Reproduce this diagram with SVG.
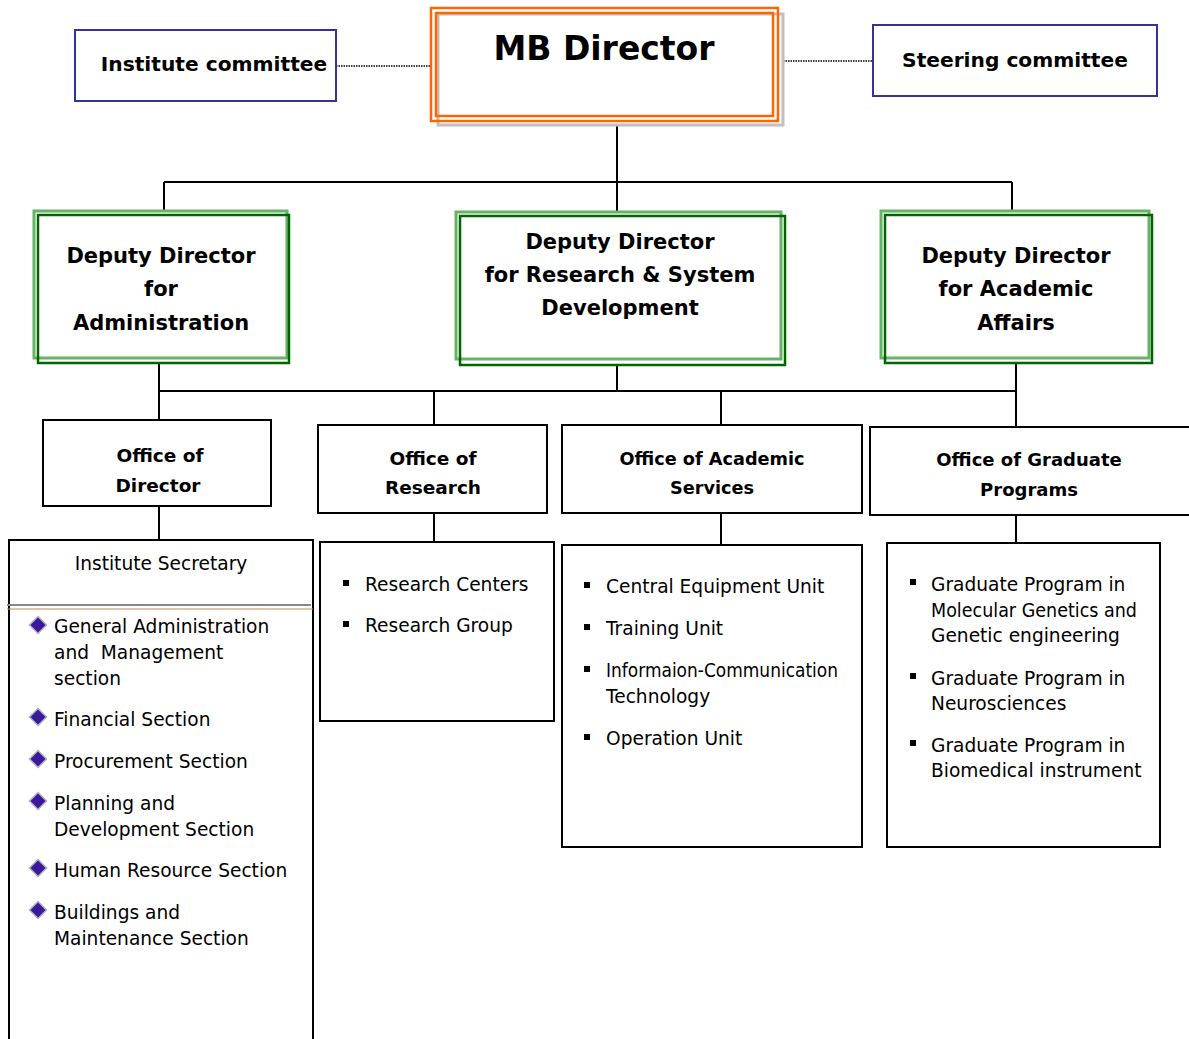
<svg xmlns="http://www.w3.org/2000/svg" width="1189" height="1039" viewBox="0 0 1189 1039">
<style>
.t{font-family:"DejaVu Sans",Verdana,sans-serif;fill:#000}
.b{font-weight:bold}
.box{fill:#fff;stroke:#000;stroke-width:2}
.com{fill:#fff;stroke:#333399;stroke-width:2}
.g1{fill:none;stroke:#66b366;stroke-width:3}
.g2{fill:none;stroke:#006600;stroke-width:2.5}
.ln{stroke:#000;stroke-width:2;fill:none}
.dot{stroke:#000;stroke-width:1.5;stroke-dasharray:1.5 1;fill:none}
</style>
<defs>
<polygon id="dia" points="0,-8.5 8.5,0 0,8.5 -8.5,0" fill="#3a1a9a" stroke="#b0b0c0" stroke-width="1.5"/>
<rect id="bul" x="-3" y="-3" width="6" height="6" fill="#000"/>
</defs>
<rect width="1189" height="1039" fill="#fff"/>
<g id="connectors">
<path class="dot" d="M336,66 H430"/>
<path class="dot" d="M783,61 H873"/>
<path class="ln" d="M617,125 V182 M164,182 H1012 M164,182 V211 M617,182 V212 M1012,182 V211"/>
<path class="ln" d="M159,363 V391 M617,365 V391 M1016,363 V391 M159,391 H1016 M159,391 V420 M434,391 V425 M721,391 V425 M1016,391 V427"/>
<path class="ln" d="M159,506 V540 M434,513 V542 M721,513 V545 M1016,515 V543"/>
</g>
<g id="mb-director">
<rect x="438" y="14" width="345" height="111" fill="#fff" stroke="#c0c0c0" stroke-width="3"/>
<rect x="431" y="8" width="347" height="113" fill="none" stroke="#ff6600" stroke-width="2.5"/>
<rect x="436" y="13" width="337" height="103" fill="none" stroke="#ff6600" stroke-width="2.5"/>
<text class="t b" x="604" y="60" font-size="33" text-anchor="middle">MB Director</text>
</g>
<g id="institute-committee">
<rect class="com" x="75" y="30" width="261" height="71"/>
<text class="t b" x="214" y="71" font-size="20.2" text-anchor="middle">Institute committee</text>
</g>
<g id="steering-committee">
<rect class="com" x="873" y="25" width="284" height="71"/>
<text class="t b" x="1015" y="67" font-size="20.2" text-anchor="middle">Steering committee</text>
</g>
<g id="dd-admin">
<rect x="34" y="211" width="253" height="147" fill="#fff"/>
<rect class="g1" x="34" y="211" width="253" height="147"/>
<rect class="g2" x="38" y="215" width="251" height="148"/>
<text class="t b" font-size="21" text-anchor="middle"><tspan x="161" y="263">Deputy Director</tspan><tspan x="161" y="296">for</tspan><tspan x="161" y="330">Administration</tspan></text>
</g>
<g id="dd-research">
<rect x="456" y="212" width="325" height="147" fill="#fff"/>
<rect class="g1" x="456" y="212" width="325" height="147"/>
<rect class="g2" x="460" y="216" width="325" height="149"/>
<text class="t b" font-size="21" text-anchor="middle"><tspan x="620" y="249">Deputy Director</tspan><tspan x="620" y="282">for Research &amp; System</tspan><tspan x="620" y="315">Development</tspan></text>
</g>
<g id="dd-academic">
<rect x="881" y="211" width="268" height="147" fill="#fff"/>
<rect class="g1" x="881" y="211" width="268" height="147"/>
<rect class="g2" x="885" y="215" width="267" height="148"/>
<text class="t b" font-size="21" text-anchor="middle"><tspan x="1016" y="263">Deputy Director</tspan><tspan x="1016" y="296">for Academic</tspan><tspan x="1016" y="330">Affairs</tspan></text>
</g>
<g id="office-director">
<rect class="box" x="43" y="420" width="228" height="86"/>
<text class="t b" font-size="18.5" text-anchor="middle"><tspan x="160" y="462">Office of</tspan><tspan x="158" y="492">Director</tspan></text>
</g>
<g id="office-research">
<rect class="box" x="318" y="425" width="229" height="88"/>
<text class="t b" font-size="18.5" text-anchor="middle"><tspan x="433" y="465">Office of</tspan><tspan x="433" y="494">Research</tspan></text>
</g>
<g id="office-academic">
<rect class="box" x="562" y="425" width="300" height="88"/>
<text class="t b" font-size="17.7" text-anchor="middle"><tspan x="712" y="465">Office of Academic</tspan><tspan x="712" y="494">Services</tspan></text>
</g>
<g id="office-graduate">
<rect class="box" x="870" y="427" width="320" height="88"/>
<text class="t b" font-size="18" text-anchor="middle"><tspan x="1029" y="466">Office of Graduate</tspan><tspan x="1029" y="496">Programs</tspan></text>
</g>
<g id="institute-secretary">
<rect class="box" x="9" y="540" width="304" height="510"/>
<text class="t" x="161" y="570" font-size="18.6" text-anchor="middle">Institute Secretary</text>
<line x1="7" y1="605" x2="311" y2="605" stroke="#888" stroke-width="2"/>
<line x1="7" y1="609" x2="313" y2="609" stroke="#c08a5a" stroke-width="1"/>
<use href="#dia" x="38" y="625"/>
<use href="#dia" x="38" y="717"/>
<use href="#dia" x="38" y="759"/>
<use href="#dia" x="38" y="801"/>
<use href="#dia" x="38" y="868"/>
<use href="#dia" x="38" y="910"/>
<text class="t" font-size="18.6" xml:space="preserve"><tspan x="54" y="633">General Administration</tspan><tspan x="54" y="659">and  Management</tspan><tspan x="54" y="685">section</tspan><tspan x="54" y="726">Financial Section</tspan><tspan x="54" y="768">Procurement Section</tspan><tspan x="54" y="810">Planning and</tspan><tspan x="54" y="836">Development Section</tspan><tspan x="54" y="877">Human Resource Section</tspan><tspan x="54" y="919">Buildings and</tspan><tspan x="54" y="945">Maintenance Section</tspan></text>
</g>
<g id="research-units">
<rect class="box" x="320" y="542" width="234" height="179"/>
<use href="#bul" x="346" y="583"/>
<use href="#bul" x="346" y="624"/>
<text class="t" font-size="18.6"><tspan x="365" y="591">Research Centers</tspan><tspan x="365" y="632">Research Group</tspan></text>
</g>
<g id="academic-units">
<rect class="box" x="562" y="545" width="300" height="302"/>
<use href="#bul" x="587" y="585"/>
<use href="#bul" x="587" y="627"/>
<use href="#bul" x="587" y="669"/>
<use href="#bul" x="587" y="737"/>
<text class="t" font-size="18.6"><tspan x="606" y="593">Central Equipment Unit</tspan><tspan x="606" y="635">Training Unit</tspan><tspan x="606" y="677" textLength="232" lengthAdjust="spacingAndGlyphs">Informaion-Communication</tspan><tspan x="606" y="703">Technology</tspan><tspan x="606" y="745">Operation Unit</tspan></text>
</g>
<g id="graduate-units">
<rect class="box" x="887" y="543" width="273" height="304"/>
<use href="#bul" x="913" y="582"/>
<use href="#bul" x="913" y="676"/>
<use href="#bul" x="913" y="743"/>
<text class="t" font-size="18.6"><tspan x="931" y="591">Graduate Program in</tspan><tspan x="931" y="617" textLength="206" lengthAdjust="spacingAndGlyphs">Molecular Genetics and</tspan><tspan x="931" y="642">Genetic engineering</tspan><tspan x="931" y="685">Graduate Program in</tspan><tspan x="931" y="710">Neurosciences</tspan><tspan x="931" y="752">Graduate Program in</tspan><tspan x="931" y="777">Biomedical instrument</tspan></text>
</g>
</svg>
